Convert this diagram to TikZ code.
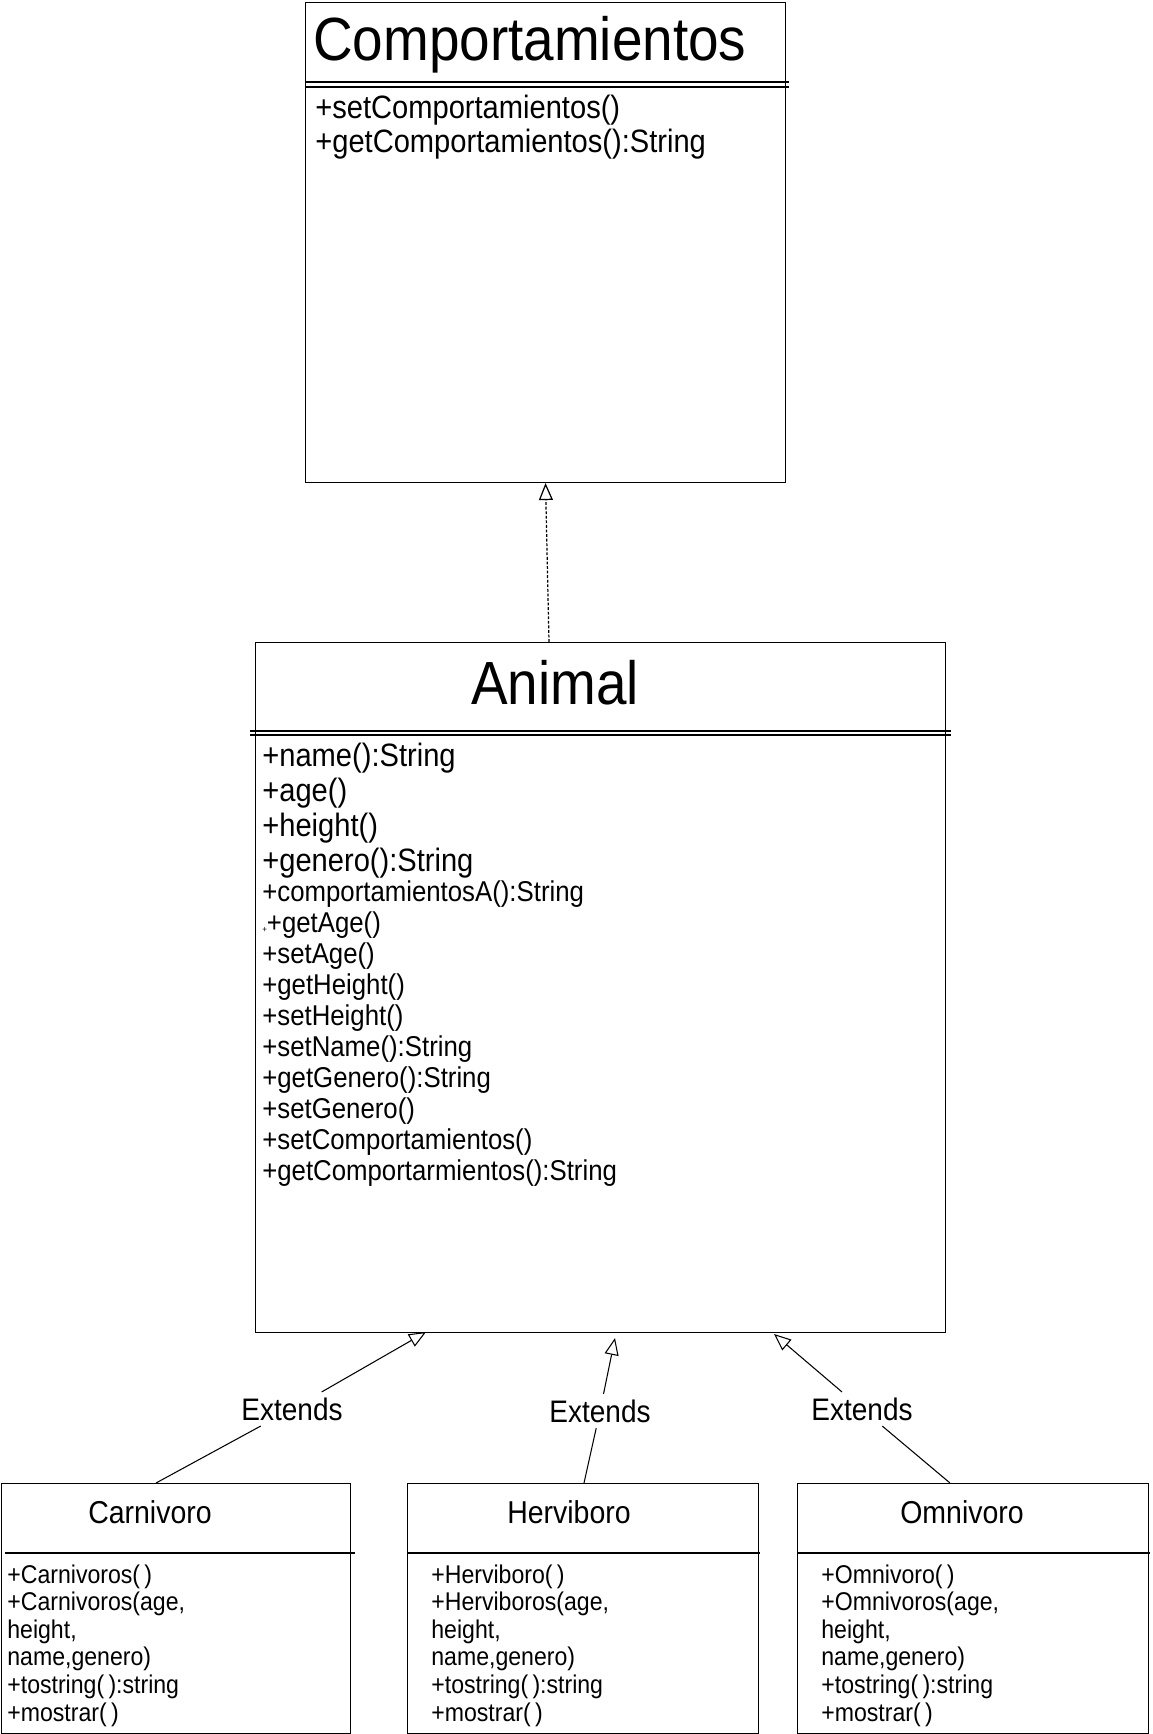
\documentclass[tikz,border=0pt]{standalone}
\usepackage{fontspec}
\setmainfont{Liberation Sans}[FakeStretch=0.9]
\usetikzlibrary{arrows.meta,positioning,calc}

\begin{document}
\begin{tikzpicture}[
  classbox/.style={draw,line width=0.6pt,fill=white,inner sep=0pt,anchor=north west},
  sepline/.style={line width=0.6pt},
  bigtitle/.style={font=\fontsize{34.7}{40}\selectfont,inner sep=0pt},
  member/.style={font=\fontsize{18.4}{20}\selectfont,inner sep=0pt,anchor=base west},
  smallmember/.style={font=\fontsize{16.3}{18}\selectfont,inner sep=0pt,anchor=base west},
  subtitle/.style={font=\fontsize{18}{20}\selectfont,inner sep=0pt,anchor=base},
  submember/.style={font=\fontsize{14.6}{16}\selectfont,inner sep=0pt,anchor=base west},
  extlabel/.style={font=\fontsize{17.7}{20}\selectfont,inner sep=3pt},
  inherit/.style={line width=0.6pt,-{Triangle[open,length=0.34cm,width=0.28cm]}},
  realize/.style={inherit,line width=0.7pt,dash pattern=on 1.6pt off 1pt}
]
  \useasboundingbox (0,0) rectangle (23.04,-34.68);

  \node[classbox,minimum width=9.6cm,minimum height=9.6cm] (comp) at (6.1,-0.04) {};
  \node[classbox,minimum width=13.8cm,minimum height=13.8cm] (animal) at (5.1,-12.84) {};
  \node[classbox,minimum width=6.98cm,minimum height=5cm] (carn) at (0.02,-29.66) {};
  \node[classbox,minimum width=7.02cm,minimum height=5cm] (herv) at (8.14,-29.66) {};
  \node[classbox,minimum width=7.02cm,minimum height=5cm] (omni) at (15.94,-29.66) {};

  \draw[sepline] (6.1,-1.64) -- (15.78,-1.64);
  \draw[sepline] (6.1,-1.74) -- (15.78,-1.74);
  \draw[sepline] (5.0,-14.62) -- (19.02,-14.62);
  \draw[sepline] (5.0,-14.70) -- (19.02,-14.70);
  \draw[sepline] (0.1,-31.06) -- (7.1,-31.06);
  \draw[sepline] (8.14,-31.06) -- (15.2,-31.06);
  \draw[sepline] (15.94,-31.06) -- (23.0,-31.06);

  \node[bigtitle,anchor=base west] (comptitle) at (6.26,-1.22) {Comportamientos};
  \node[member] (compm1) at (6.3,-2.38) {+setComportamientos()};
  \node[member] (compm2) at (6.3,-3.06) {+getComportamientos():String};

  \node[bigtitle,anchor=base] (animaltitle) at (11.1,-14.08) {Animal};
  \foreach \txt [count=\i from 0] in {+name():String,+age(),+height(),+genero():String}
    \node[member] (am\i) at (5.24,{-15.32-0.7*\i}) {\txt};
  \foreach \txt [count=\i from 0] in {+comportamientosA():String,{\fontsize{5}{6}\selectfont+}+getAge(),
      +setAge(),+getHeight(),+setHeight(),+setName():String,+getGenero():String,+setGenero(),
      +setComportamientos(),+getComportarmientos():String}
    \node[smallmember] (as\i) at (5.24,{-18.02-0.62*\i}) {\txt};

  \node[subtitle] (carntitle) at (3.0,-30.46) {Carnivoro};
  \foreach \txt [count=\i from 0] in {{+Carnivoros(\,)},{+Carnivoros(age,},{height,},{name,genero)},
      {+tostring(\,):string},{+mostrar(\,)}}
    \node[submember] (cm\i) at (0.14,{-31.66-0.553*\i}) {\txt};

  \node[subtitle] (hervtitle) at (11.38,-30.46) {Herviboro};
  \foreach \txt [count=\i from 0] in {{+Herviboro(\,)},{+Herviboros(age,},{height,},{name,genero)},
      {+tostring(\,):string},{+mostrar(\,)}}
    \node[submember] (hm\i) at (8.62,{-31.66-0.553*\i}) {\txt};

  \node[subtitle] (omnititle) at (19.24,-30.46) {Omnivoro};
  \foreach \txt [count=\i from 0] in {{+Omnivoro(\,)},{+Omnivoros(age,},{height,},{name,genero)},
      {+tostring(\,):string},{+mostrar(\,)}}
    \node[submember] (om\i) at (16.42,{-31.66-0.553*\i}) {\txt};

  \coordinate (animaltop) at (10.98,-12.84);
  \draw[realize] (animaltop) -- (comp.south);

  \coordinate (carntop) at (3.12,-29.66);
  \coordinate (hervtop) at (11.68,-29.66);
  \coordinate (omnitop) at (19.0,-29.66);
  \coordinate (tipc) at (8.52,-26.64);
  \coordinate (tiph) at (12.3,-26.76);
  \coordinate (tipo) at (15.48,-26.68);
  \node[extlabel] (extc) at (5.84,-28.18) {Extends};
  \node[extlabel] (exth) at (12.0,-28.22) {Extends};
  \node[extlabel] (exto) at (17.24,-28.18) {Extends};
  \draw[line width=0.6pt] (carntop) -- (extc);
  \draw[inherit] (extc) -- (tipc);
  \draw[line width=0.6pt] (hervtop) -- (exth);
  \draw[inherit] (exth) -- (tiph);
  \draw[line width=0.6pt] (omnitop) -- (exto);
  \draw[inherit] (exto) -- (tipo);
\end{tikzpicture}
\end{document}
